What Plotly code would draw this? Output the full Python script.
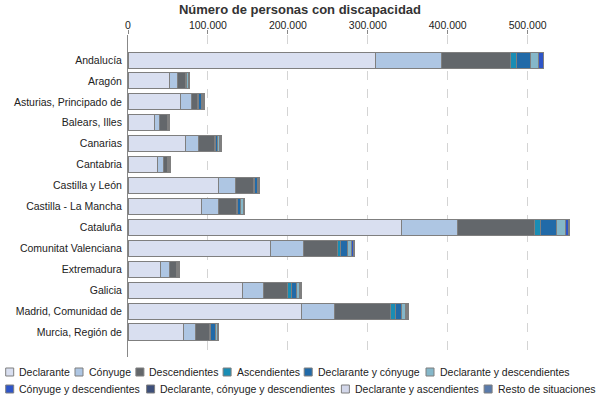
import plotly.graph_objects as go

regions = ["Andalucía", "Aragón", "Asturias, Principado de", "Balears, Illes", "Canarias",
           "Cantabria", "Castilla y León", "Castilla - La Mancha", "Cataluña",
           "Comunitat Valenciana", "Extremadura", "Galicia", "Madrid, Comunidad de",
           "Murcia, Región de"]

series_names = ["Declarante", "Cónyuge", "Descendientes", "Ascendientes",
                "Declarante y cónyuge", "Declarante y descendientes",
                "Cónyuge y descendientes", "Declarante, cónyuge y descendientes",
                "Declarante y ascendientes", "Resto de situaciones"]

declarante = [309500, 51700, 65900, 33000, 71700, 36700, 113500, 92200, 342000, 178500, 40400, 143500, 216900, 69200]
conyuge = [83100, 10000, 13300, 6200, 16300, 7500, 21300, 21300, 70000, 40900, 11300, 25900, 41300, 15500]
descendientes = [85900, 10000, 7200, 9600, 19600, 4600, 21600, 21700, 96500, 42600, 8800, 30000, 70100, 16700]
ascendientes = [7500, 800, 1500, 600, 1800, 600, 1500, 1200, 7500, 3300, 500, 5000, 6700, 2100]
decl_conyuge = [17500, 1200, 3800, 1000, 2500, 1400, 3500, 4000, 20000, 9200, 1200, 5900, 7000, 5400]
decl_descend = [10500, 2000, 2000, 1000, 2800, 1200, 2000, 3500, 11300, 4500, 1000, 3700, 5000, 2500]
cony_descend = [5400, 600, 1200, 400, 1200, 500, 800, 1200, 3700, 2500, 500, 1800, 2000, 1200]
decl_cony_desc = [300, 200, 300, 100, 300, 100, 200, 300, 500, 500, 100, 300, 800, 300]
decl_ascend = [200, 200, 300, 100, 200, 100, 100, 200, 300, 300, 100, 300, 500, 200]
resto = [300, 300, 500, 200, 400, 300, 300, 400, 500, 600, 300, 500, 1000, 400]

series_values = [declarante, conyuge, descendientes, ascendientes, decl_conyuge,
                 decl_descend, cony_descend, decl_cony_desc, decl_ascend, resto]

colors = ["#d9dff0", "#aec6e3", "#63676b", "#1a8db4", "#216aa8",
          "#85b7c9", "#2e55c8", "#3d4f7a", "#d3d7ea", "#5a7bab"]

title = "Número de personas con discapacidad"
tick_vals = [0, 100000, 200000, 300000, 400000, 500000]

FONT = "Liberation Sans, Arial, sans-serif"
W, H = 600, 400
ML, MR, MT, MB = 128, 10, 35, 43
PW = W - ML - MR
PH = H - MT - MB

fig = go.Figure()
for name, vals, col in zip(series_names, series_values, colors):
    fig.add_trace(go.Bar(
        y=regions, x=vals, name=name, orientation="h",
        marker=dict(color=col, line=dict(color="#7f7f7f", width=1)),
        showlegend=False,
    ))

# manual legend (layout positions in pixels)
legend_pos = [
    (5.7, 372), (75, 372), (135.9, 372), (223.1, 372), (304.2, 372), (426, 372),
    (5.7, 389), (146.6, 389), (341.4, 389), (484.1, 389),
]
shapes = []
annotations = []
for (px, py), name, col in zip(legend_pos, series_names, colors):
    x0 = (px - ML) / PW
    x1 = (px + 8 - ML) / PW
    y0 = (MT + PH - (py - 4)) / PH
    y1 = (MT + PH - (py + 4)) / PH
    shapes.append(dict(type="rect", xref="paper", yref="paper", x0=x0, x1=x1, y0=y1, y1=y0,
                       fillcolor=col, line=dict(color="#7f7f7f", width=1)))
    annotations.append(dict(text=name, xref="paper", yref="paper",
                            x=(px + 11.5 - ML) / PW, y=(MT + PH - py) / PH,
                            xanchor="left", yanchor="middle", showarrow=False,
                            font=dict(family=FONT, size=10.5, color="#222")))

fig.update_layout(
    width=W, height=H,
    margin=dict(l=ML, r=MR, t=MT, b=MB, pad=0, autoexpand=False),
    paper_bgcolor="white", plot_bgcolor="white",
    barmode="stack", bargap=0.235,
    separators=",.",
    font=dict(family=FONT, size=10.5, color="#222"),
    title=dict(text="<b>" + title + "</b>", x=0.5, xref="container", xanchor="center",
               y=1 - 9 / H, yref="container", yanchor="middle",
               font=dict(family=FONT, size=13, color="#333")),
    xaxis=dict(side="top", range=[0, 578000], tickvals=tick_vals, tickformat=",d",
               automargin=False, ticklabelstandoff=-3,
               showgrid=True, gridcolor="#d4d4d4", griddash="dash", gridwidth=1,
               zeroline=False, showline=False, ticks="outside", ticklen=4,
               tickcolor="#888", tickfont=dict(family=FONT, size=10.5, color="#222")),
    yaxis=dict(range=[14.195, -1.195], showgrid=False, zeroline=False, automargin=False,
               showline=True, linecolor="#888", linewidth=1, ticks="",
               ticklabelstandoff=3,
               tickfont=dict(family=FONT, size=10.5, color="#222")),
    shapes=shapes, annotations=annotations,
)

fig.write_html("out.html", config={"displayModeBar": False},
               post_script="document.body.style.margin='0';document.body.style.padding='0';")
